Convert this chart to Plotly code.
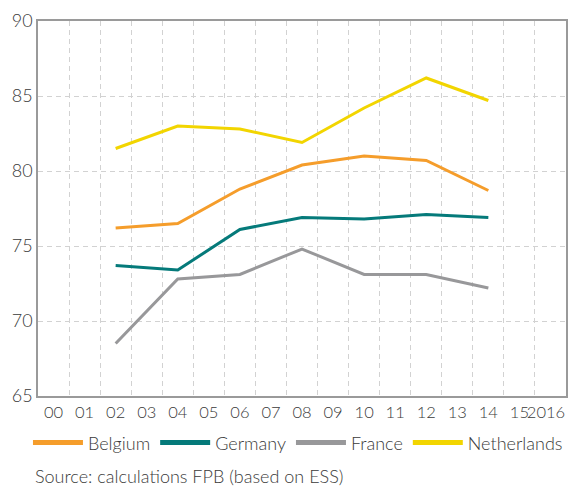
import plotly.graph_objects as go

# x categories (every year 2000-2016), data only for even years
year_labels = ['00', '01', '02', '03', '04', '05', '06', '07', '08',
               '09', '10', '11', '12', '13', '14', '15', '2016']
survey_years = ['02', '04', '06', '08', '10', '12', '14']

belgium = [76.2, 76.5, 78.8, 80.4, 81.0, 80.7, 78.7]
germany = [73.7, 73.4, 76.1, 76.9, 76.8, 77.1, 76.9]
france = [68.5, 72.8, 73.1, 74.8, 73.1, 73.1, 72.2]
netherlands = [81.5, 83.0, 82.8, 81.9, 84.2, 86.2, 84.7]

series = [
    ('Belgium', belgium, '#F59D2B'),
    ('Germany', germany, '#057A7A'),
    ('France', france, '#98989A'),
    ('Netherlands', netherlands, '#F2D500'),
]

fig = go.Figure()
for name, values, color in series:
    fig.add_trace(go.Scatter(
        x=survey_years, y=values, mode='lines', name=name,
        line=dict(color=color, width=3), showlegend=False))
    # legend-only entry so the legend swatch can be thicker
    fig.add_trace(go.Scatter(
        x=[None], y=[None], mode='lines', name=name,
        line=dict(color=color, width=5)))

# last label padded on the right so it stays inside the page
tick_text = year_labels[:-1] + [year_labels[-1] + '\u00a0\u00a0']

fig.update_xaxes(
    type='category', categoryorder='array', categoryarray=year_labels,
    tickvals=year_labels, ticktext=tick_text, range=[-0.5, 16.5],
    tickson='boundaries', tickangle=0, automargin=False,
    tickfont=dict(size=16.5),
    showgrid=True, gridcolor='#d2d2d2', griddash='5px,4px', gridwidth=1,
    showline=True, linecolor='#9a9a9a', linewidth=1.5, mirror=True,
    ticks='', zeroline=False)
fig.update_yaxes(
    range=[65, 90], dtick=5, showgrid=True, gridcolor='#d2d2d2',
    griddash='5px,4px', gridwidth=1, showline=True, linecolor='#9a9a9a',
    linewidth=1.5, mirror=True, ticks='', zeroline=False,
    automargin=False, tickfont=dict(size=18))

fig.add_annotation(
    text='Source: calculations FPB (based on ESS)', xref='paper',
    yref='paper', x=-0.01, y=-0.213, xanchor='left', yanchor='middle',
    showarrow=False, font=dict(size=18, color='#3a3a3a', weight=300))

fig.update_layout(
    width=568, height=489,
    margin=dict(l=38, r=2, t=21, b=93),
    paper_bgcolor='white', plot_bgcolor='white',
    font=dict(family='Lato', size=18, color='#3a3a3a', weight=300),
    legend=dict(orientation='h', x=-0.019, y=-0.125, xanchor='left',
                yanchor='middle', font=dict(size=18, weight=300),
                itemwidth=50, bgcolor='rgba(0,0,0,0)'),
)

# drop the default page margin so the figure fills the window exactly
fig.write_html(
    "out.html",
    config={'displayModeBar': False},
    post_script="document.body.style.margin='0';"
                "document.body.style.overflow='hidden';")
